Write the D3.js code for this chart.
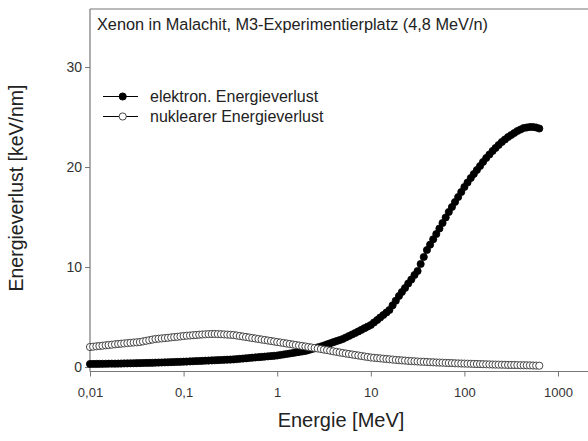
<!DOCTYPE html>
<html><head><meta charset="utf-8">
<script src="https://cdn.jsdelivr.net/npm/d3@7/dist/d3.min.js"></script>
<style>
html,body{margin:0;padding:0;background:#fff;}
svg text{font-family:"Liberation Sans",Arial,sans-serif;fill:#222;}
</style></head>
<body><svg id="c" width="588" height="441"></svg>
<script>
const title = "Xenon in Malachit, M3-Experimentierplatz (4,8 MeV/n)";
const xLabel = "Energie [MeV]";
const yLabel = "Energieverlust [keV/nm]";
const seriesNames = ["elektron. Energieverlust", "nuklearer Energieverlust"];
const xTickValues = [0.01, 0.1, 1, 10, 100, 1000];
const xTickLabels = ["0,01", "0,1", "1", "10", "100", "1000"];
const yTickValues = [0, 10, 20, 30];

const energy = [
0.01,0.0108,0.0117,0.0126,0.0136,0.0147,0.0158,0.0171,0.0185,0.02,0.0215,0.0232,0.0251,0.0271,0.0293,0.0316,0.0341,0.0368,0.0398,0.043,0.0464,0.0501,0.0541,0.0584,0.0631,0.0681,0.0736,0.0794,0.0858,0.0926,
0.1,0.108,0.117,0.126,0.136,0.147,0.158,0.171,0.185,0.2,0.215,0.232,0.251,0.271,0.293,0.316,0.341,0.368,0.398,0.43,0.464,0.501,0.541,0.584,0.631,0.681,0.736,0.794,0.858,0.926,
1,1.08,1.17,1.26,1.36,1.47,1.58,1.71,1.85,2,2.15,2.32,2.51,2.71,2.93,3.16,3.41,3.68,3.98,4.3,4.64,5.01,5.41,5.84,6.31,6.81,7.36,7.94,8.58,9.26,
10,10.8,11.7,12.6,13.6,14.7,15.8,17.1,18.5,20,21.5,23.2,25.1,27.1,29.3,31.6,34.1,36.8,39.8,43,46.4,50.1,54.1,58.4,63.1,68.1,73.6,79.4,85.8,92.6,
100,108,117,126,136,147,158,171,185,200,215,232,251,271,293,316,341,368,398,430,464,501,541,584,631];

const elektron = [
0.30,0.305,0.31,0.315,0.32,0.324,0.328,0.332,0.336,0.34,0.347,0.354,0.362,0.37,0.377,0.384,0.392,0.40,0.407,0.415,0.422,0.43,0.441,0.452,0.463,0.474,0.485,0.496,0.507,0.518,
0.53,0.545,0.56,0.575,0.59,0.60,0.615,0.63,0.645,0.66,0.674,0.688,0.70,0.716,0.73,0.745,0.76,0.788,0.816,0.844,0.872,0.90,0.928,0.955,0.983,1.01,1.04,1.065,1.095,1.12,
1.15,1.2,1.25,1.3,1.35,1.4,1.45,1.5,1.55,1.6,1.69,1.78,1.87,1.96,2.05,2.15,2.26,2.37,2.48,2.59,2.69,2.8,2.95,3.1,3.25,3.4,3.56,3.72,3.88,4.04,
4.2,4.45,4.7,4.95,5.2,5.45,5.7,6.17,6.63,7.1,7.5,7.9,8.35,8.75,9.2,9.6,10.3,11.0,11.7,12.23,12.77,13.3,13.85,14.4,14.95,15.5,16.0,16.5,17.0,17.5,
18.0,18.45,18.9,19.3,19.7,20.1,20.5,20.9,21.25,21.6,21.9,22.2,22.5,22.75,23.0,23.2,23.4,23.6,23.75,23.9,23.95,24.0,24.0,23.95,23.85];

const nuklear = [
2.00,2.03,2.07,2.10,2.13,2.17,2.20,2.23,2.27,2.30,2.33,2.36,2.39,2.42,2.45,2.47,2.50,2.56,2.62,2.68,2.74,2.80,2.83,2.86,2.89,2.92,2.96,2.99,3.02,3.06,
3.10,3.13,3.15,3.18,3.20,3.23,3.25,3.27,3.29,3.30,3.30,3.29,3.28,3.26,3.24,3.22,3.20,3.15,3.10,3.05,3.00,2.95,2.90,2.85,2.80,2.75,2.70,2.65,2.60,2.55,
2.5,2.45,2.4,2.35,2.3,2.25,2.2,2.15,2.1,2.05,2.0,1.95,1.9,1.85,1.8,1.74,1.69,1.63,1.57,1.51,1.46,1.4,1.35,1.3,1.25,1.2,1.15,1.1,1.05,1.0,
0.95,0.92,0.89,0.86,0.83,0.80,0.77,0.74,0.71,0.68,0.66,0.64,0.61,0.59,0.57,0.55,0.53,0.52,0.50,0.48,0.47,0.45,0.44,0.43,0.41,0.40,0.39,0.37,0.36,0.35,
0.34,0.33,0.32,0.31,0.30,0.29,0.28,0.27,0.26,0.25,0.24,0.235,0.23,0.22,0.21,0.205,0.2,0.19,0.18,0.175,0.17,0.16,0.15,0.14,0.13];

const svg = d3.select("#c");
const x = d3.scaleLog().domain([0.01, 1000]).range([90, 558]);
const y = d3.scaleLinear().domain([0, 30]).range([367, 67]);
const frameTop = 9, frameBottom = 371.5, frameLeft = 90, frameRight = 600;
const axisColor = "#777";

// frame
svg.append("line").attr("x1", frameLeft).attr("x2", frameRight).attr("y1", frameTop).attr("y2", frameTop)
  .attr("stroke", axisColor).attr("stroke-width", 1.2);

// x axis
const gx = svg.append("g").attr("transform", `translate(0,${frameBottom})`)
  .call(d3.axisBottom(x).tickValues(xTickValues).tickSize(5).tickPadding(11)
    .tickFormat((d, i) => xTickLabels[i]));
gx.select(".domain").remove();
gx.append("line").attr("x1", frameLeft).attr("x2", frameRight).attr("stroke", axisColor).attr("stroke-width", 1.2);
gx.selectAll(".tick line").attr("stroke", axisColor);
gx.selectAll(".tick text").attr("font-size", 13).style("fill", "#333");

// y axis
const gy = svg.append("g").attr("transform", `translate(${frameLeft},0)`)
  .call(d3.axisLeft(y).tickValues(yTickValues).tickSize(5).tickPadding(3));
gy.select(".domain").remove();
gy.append("line").attr("y1", frameTop).attr("y2", frameBottom).attr("stroke", axisColor).attr("stroke-width", 1.2);
gy.selectAll(".tick line").attr("stroke", axisColor);
gy.selectAll(".tick text").attr("font-size", 14).style("fill", "#333");

// labels
svg.append("text").attr("x", 341).attr("y", 427).attr("text-anchor", "middle")
  .attr("font-size", 20).text(xLabel);
svg.append("text").attr("transform", "translate(22.5,188) rotate(-90)").attr("text-anchor", "middle")
  .attr("font-size", 19.5).text(yLabel);
svg.append("text").attr("x", 97).attr("y", 30).attr("font-size", 16.3).text(title);

// series
const line = d3.line().x((d, i) => x(energy[i])).y(d => y(d));
const r = 3.6;
svg.append("path").datum(elektron).attr("d", line).attr("fill", "none").attr("stroke", "#000").attr("stroke-width", 1);
svg.append("g").selectAll("circle").data(elektron).join("circle")
  .attr("cx", (d, i) => x(energy[i])).attr("cy", d => y(d)).attr("r", r)
  .attr("fill", "#000").attr("stroke", "#000").attr("stroke-width", 0.8);
svg.append("path").datum(nuklear).attr("d", line).attr("fill", "none").attr("stroke", "#000").attr("stroke-width", 1);
svg.append("g").selectAll("circle").data(nuklear).join("circle")
  .attr("cx", (d, i) => x(energy[i])).attr("cy", d => y(d)).attr("r", r)
  .attr("fill", "#fff").attr("stroke", "#333").attr("stroke-width", 0.9);

// legend
const legY = [96.5, 116.5];
seriesNames.forEach((name, k) => {
  const g = svg.append("g");
  g.append("line").attr("x1", 103).attr("x2", 138).attr("y1", legY[k]).attr("y2", legY[k]).attr("stroke", "#000").attr("stroke-width", 1);
  g.append("circle").attr("cx", 122.7).attr("cy", legY[k]).attr("r", 3.6)
    .attr("fill", k === 0 ? "#000" : "#fff").attr("stroke", k === 0 ? "#000" : "#333").attr("stroke-width", 0.9);
  g.append("text").attr("x", 150).attr("y", legY[k] + 5.8).attr("font-size", 16).text(name);
});
</script></body></html>
